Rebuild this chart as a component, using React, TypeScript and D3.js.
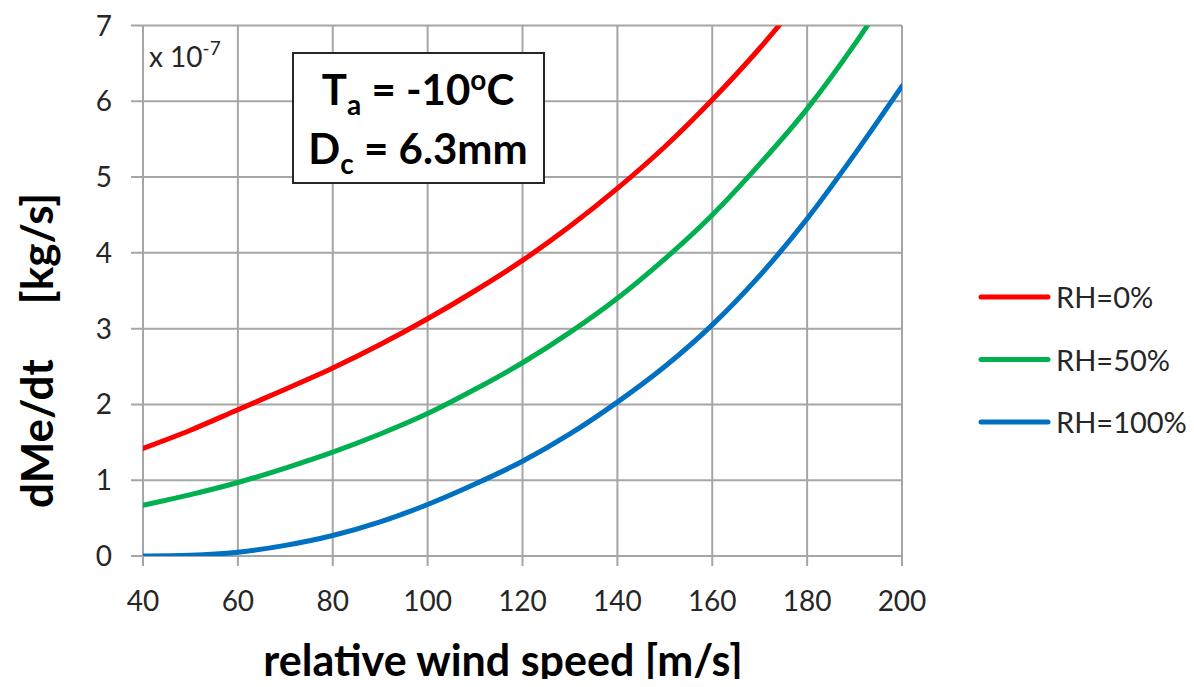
import React, { useEffect, useRef } from 'react';
import * as d3 from 'd3';

// Data (values in units of 1e-7 kg/s)
const windSpeed = [40, 50, 60, 70, 80, 90, 100, 110, 120, 130, 140, 150, 160, 170, 180, 190, 200];
const rh0 = [1.42, 1.66, 1.93, 2.2, 2.48, 2.79, 3.13, 3.5, 3.9, 4.35, 4.85, 5.4, 6.02, 6.7, 7.45, null, null];
const rh50 = [0.67, 0.81, 0.97, 1.16, 1.37, 1.61, 1.88, 2.2, 2.55, 2.95, 3.4, 3.92, 4.5, 5.17, 5.9, 6.75, 7.7];
const rh100 = [0.0, 0.01, 0.05, 0.14, 0.27, 0.45, 0.68, 0.95, 1.25, 1.61, 2.03, 2.5, 3.05, 3.7, 4.45, 5.3, 6.2];
const seriesNames = ['RH=0%', 'RH=50%', 'RH=100%'];
const seriesColors = ['#ff0000', '#00b050', '#0070c0'];
const xTicks = [40, 60, 80, 100, 120, 140, 160, 180, 200];
const yTicks = [0, 1, 2, 3, 4, 5, 6, 7];

const FONT = 'Lato, "Open Sans", sans-serif';

const Chart = () => {
  const ref = useRef<SVGSVGElement | null>(null);

  useEffect(() => {
    const svg = d3.select(ref.current);
    svg.selectAll('*').remove();

    const left = 143, right = 902, top = 25.5, bottom = 556;

    const x = d3.scaleLinear().domain([40, 200]).range([left, right]);
    const y = d3.scaleLinear().domain([0, 7]).range([bottom, top]);

    svg.append('defs').append('clipPath').attr('id', 'plot-clip')
      .append('rect')
      .attr('x', left).attr('y', top)
      .attr('width', right - left).attr('height', bottom - top);

    // Grid
    const grid = svg.append('g').attr('stroke', '#a6a6a6').attr('stroke-width', 2);
    grid.selectAll('.vgrid')
      .data(xTicks)
      .enter()
      .append('line')
      .attr('x1', d => x(d)).attr('x2', d => x(d))
      .attr('y1', top).attr('y2', bottom + 10);
    grid.selectAll('.hgrid')
      .data(yTicks)
      .enter()
      .append('line')
      .attr('x1', left - 12).attr('x2', right)
      .attr('y1', d => y(d)).attr('y2', d => y(d));

    // Tick labels
    svg.append('g')
      .selectAll('text')
      .data(yTicks)
      .enter()
      .append('text')
      .attr('x', 112)
      .attr('y', d => y(d) + 10)
      .attr('text-anchor', 'end')
      .attr('font-family', FONT)
      .attr('font-size', 28)
      .attr('fill', '#262626')
      .text(d => d);

    svg.append('g')
      .selectAll('text')
      .data(xTicks)
      .enter()
      .append('text')
      .attr('x', d => x(d))
      .attr('y', 611)
      .attr('text-anchor', 'middle')
      .attr('font-family', FONT)
      .attr('font-size', 28)
      .attr('fill', '#262626')
      .text(d => d);

    // Lines
    const allSeries = [rh0, rh50, rh100];
    const line = d3.line<number | null>()
      .defined(d => d !== null)
      .x((d, i) => x(windSpeed[i]))
      .y(d => y(d as number))
      .curve(d3.curveMonotoneX);

    svg.append('g')
      .attr('clip-path', 'url(#plot-clip)')
      .selectAll('path')
      .data(allSeries)
      .enter()
      .append('path')
      .attr('d', d => line(d))
      .attr('fill', 'none')
      .attr('stroke', (d, i) => seriesColors[i])
      .attr('stroke-width', 5)
      .attr('stroke-linecap', 'round');

    // Multiplier label
    const mult = svg.append('text')
      .attr('x', 149)
      .attr('y', 67)
      .attr('font-family', FONT)
      .attr('font-size', 28)
      .attr('fill', '#262626');
    mult.append('tspan').text('x 10');
    mult.append('tspan').attr('dy', -12).attr('font-size', 19).text('-7');

    // Annotation box
    svg.append('rect')
      .attr('x', 293).attr('y', 53)
      .attr('width', 251).attr('height', 130)
      .attr('fill', 'white')
      .attr('stroke', '#262626')
      .attr('stroke-width', 2);

    const t1 = svg.append('text')
      .attr('x', 418).attr('y', 105)
      .attr('text-anchor', 'middle')
      .attr('font-family', FONT)
      .attr('font-weight', 'bold')
      .attr('font-size', 42)
      .attr('fill', 'black');
    t1.append('tspan').text('T');
    t1.append('tspan').attr('dy', 10).attr('font-size', 28).text('a');
    t1.append('tspan').attr('dy', -10).text(' = -10');
    t1.append('tspan').attr('dy', -15).attr('font-size', 28).text('o');
    t1.append('tspan').attr('dy', 15).text('C');

    const t2 = svg.append('text')
      .attr('x', 418).attr('y', 164)
      .attr('text-anchor', 'middle')
      .attr('font-family', FONT)
      .attr('font-weight', 'bold')
      .attr('font-size', 42)
      .attr('fill', 'black');
    t2.append('tspan').text('D');
    t2.append('tspan').attr('dy', 10).attr('font-size', 28).text('c');
    t2.append('tspan').attr('dy', -10).text(' = 6.3mm');

    // Legend
    const legend = svg.append('g');
    seriesNames.forEach((name, i) => {
      const ly = 297 + i * 62.5;
      legend.append('line')
        .attr('x1', 981).attr('x2', 1048)
        .attr('y1', ly).attr('y2', ly)
        .attr('stroke', seriesColors[i])
        .attr('stroke-width', 5)
        .attr('stroke-linecap', 'round');
      legend.append('text')
        .attr('x', 1056)
        .attr('y', ly + 11)
        .attr('font-family', FONT)
        .attr('font-size', 29)
        .attr('fill', '#262626')
        .text(name);
    });

    // X axis label
    svg.append('text')
      .attr('x', 503)
      .attr('y', 676)
      .attr('text-anchor', 'middle')
      .attr('font-family', FONT)
      .attr('font-weight', 'bold')
      .attr('font-size', 43)
      .attr('fill', 'black')
      .text('relative wind speed [m/s]');

    // Y axis label
    const yl = svg.append('g').attr('transform', 'translate(53,0) rotate(-90)');
    yl.append('text')
      .attr('x', -508)
      .attr('text-anchor', 'start')
      .attr('font-family', FONT)
      .attr('font-weight', 'bold')
      .attr('font-size', 44)
      .attr('fill', 'black')
      .text('dMe/dt');
    yl.append('text')
      .attr('x', -193)
      .attr('text-anchor', 'end')
      .attr('font-family', FONT)
      .attr('font-weight', 'bold')
      .attr('font-size', 44)
      .attr('fill', 'black')
      .text('[kg/s]');
  }, []);

  return <svg ref={ref} width={1194} height={687} style={{ display: 'block' }} />;
};

export default function App() {
  return (
    <div style={{ margin: -8 }}>
      <Chart />
    </div>
  );
}
